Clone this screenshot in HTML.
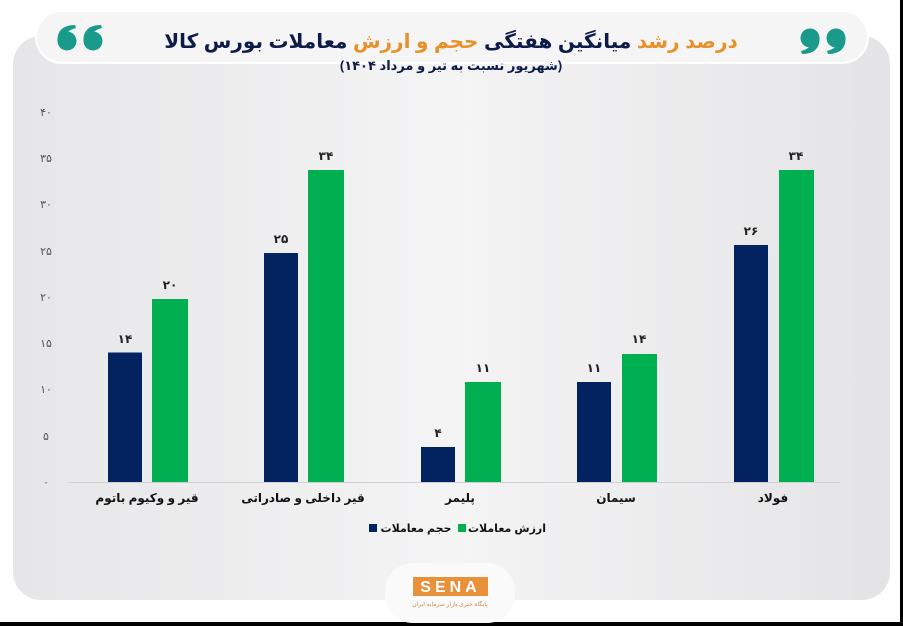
<!DOCTYPE html>
<html><head><meta charset="utf-8"><style>
html,body{margin:0;padding:0;background:#fff;}
svg{display:block}
text{font-family:"Liberation Sans","Noto Sans CJK SC","DejaVu Sans",sans-serif;}
</style></head><body>
<svg width="903" height="626" viewBox="0 0 903 626" xmlns="http://www.w3.org/2000/svg">
<defs>
<linearGradient id="pg" x1="0" x2="1" y1="0" y2="0">
<stop offset="0" stop-color="#e6e6e8"/><stop offset="0.5" stop-color="#f4f4f5"/><stop offset="1" stop-color="#e4e4e6"/>
</linearGradient>
</defs>
<rect width="903" height="626" fill="#fff"/>
<rect x="13" y="36" width="877" height="564" rx="28" fill="url(#pg)"/>
<rect x="36" y="11" width="832" height="52" rx="26" fill="#f5f5f6" stroke="#fff" stroke-width="2"/>
<rect x="900" y="0" width="3" height="626" fill="#000"/>
<rect x="0" y="622" width="903" height="4" fill="#000"/>
<!-- quotes -->
<g fill="#1a9a8a">
<circle cx="67" cy="41" r="9.5"/><path d="M57.5 41 C57 31 63 25 75 25 L76 28 C68 30 65 34 66 38 Z"/>
<circle cx="93" cy="41" r="9.5"/><path d="M83.5 41 C83 31 89 25 101 25 L102 28 C94 30 91 34 92 38 Z"/>
<circle cx="810" cy="38" r="9.5"/><path d="M819.5 38 C820 48 814 54 802 54 L801 51 C809 49 812 45 811 41 Z"/>
<circle cx="836" cy="38" r="9.5"/><path d="M845.5 38 C846 48 840 54 828 54 L827 51 C835 49 838 45 837 41 Z"/>
</g>
<text x="451" y="48" font-size="20" font-weight="bold" text-anchor="middle" fill="#0d1b4a" direction="rtl" unicode-bidi="embed"><tspan fill="#e8902a">درصد رشد</tspan> میانگین هفتگی <tspan fill="#e8902a">حجم و ارزش</tspan> معاملات بورس کالا</text>
<text x="451" y="70" font-size="13" font-weight="bold" text-anchor="middle" fill="#0d1b4a">(شهریور نسبت به تیر و مرداد ۱۴۰۴)</text>
<!-- y axis -->
<g font-size="11" fill="#555" text-anchor="middle">
<text x="46" y="486">۰</text><text x="46" y="440">۵</text><text x="46" y="393">۱۰</text>
<text x="46" y="347">۱۵</text><text x="46" y="301">۲۰</text><text x="46" y="255">۲۵</text>
<text x="46" y="208">۳۰</text><text x="46" y="162">۳۵</text><text x="46" y="116">۴۰</text>
</g>
<line x1="68" y1="482.5" x2="840" y2="482.5" stroke="#d0d0d4" stroke-width="1"/>
<!-- bars -->
<g fill="#022260">
<rect x="108" y="352.5" width="34" height="129.5"/>
<rect x="264" y="253" width="34" height="229"/>
<rect x="421" y="447" width="34" height="35"/>
<rect x="577" y="382" width="34" height="100"/>
<rect x="734" y="245" width="34" height="237"/>
</g>
<g fill="#00b050">
<rect x="152" y="299" width="36" height="183"/>
<rect x="308" y="170" width="36" height="312"/>
<rect x="465" y="382" width="36" height="100"/>
<rect x="622" y="354" width="35" height="128"/>
<rect x="779" y="170" width="35" height="312"/>
</g>
<g font-size="12" font-weight="bold" fill="#222" text-anchor="middle">
<text x="125" y="343">۱۴</text><text x="170" y="289">۲۰</text>
<text x="281" y="243">۲۵</text><text x="326" y="160">۳۴</text>
<text x="438" y="437">۴</text><text x="483" y="372">۱۱</text>
<text x="594" y="372">۱۱</text><text x="639" y="343">۱۴</text>
<text x="751" y="235">۲۶</text><text x="796" y="160">۳۴</text>
</g>
<g font-size="12" font-weight="bold" fill="#111" text-anchor="middle">
<text x="147" y="502">قیر و وکیوم باتوم</text>
<text x="303" y="502">قیر داخلی و صادراتی</text>
<text x="460" y="502">پلیمر</text>
<text x="616" y="502">سیمان</text>
<text x="773" y="502">فولاد</text>
</g>
<!-- legend -->
<rect x="458" y="524" width="8" height="8" fill="#00b050"/>
<text x="507" y="532" font-size="11" font-weight="bold" text-anchor="middle" fill="#111">ارزش معاملات</text>
<rect x="369" y="524" width="8" height="8" fill="#022260"/>
<text x="416" y="532" font-size="11" font-weight="bold" text-anchor="middle" fill="#111">حجم معاملات</text>
<!-- logo -->
<rect x="385" y="563" width="130" height="60" rx="28" fill="#fafafa"/>
<rect x="413" y="577" width="75" height="19" fill="#e8913a"/>
<text x="450.5" y="592" font-size="16" font-weight="bold" fill="#fff" text-anchor="middle" letter-spacing="4">SENA</text>
<text x="450" y="606" font-size="6" fill="#c98a4a" text-anchor="middle">پایگاه خبری بازار سرمایه ایران</text>
</svg>
</body></html>
